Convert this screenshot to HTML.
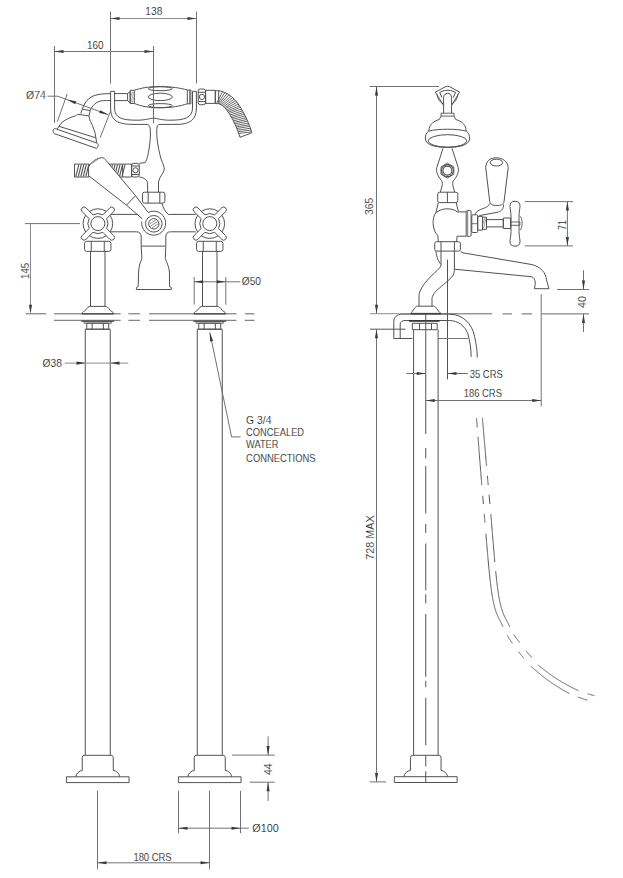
<!DOCTYPE html>
<html><head><meta charset="utf-8"><style>
html,body{margin:0;padding:0;background:#fff;}
svg{display:block;}
text{font-family:"Liberation Sans",sans-serif;stroke:#fff;stroke-width:0.12px;}
</style></head><body>
<svg width="623" height="878" viewBox="0 0 623 878" stroke-linecap="butt" stroke-linejoin="round">
<rect width="623" height="878" fill="#fff"/>
<line x1="110.5" y1="11.5" x2="110.5" y2="83.5" stroke="#727272" stroke-width="1"/>
<line x1="196.5" y1="11.5" x2="196.5" y2="83.5" stroke="#727272" stroke-width="1"/>
<line x1="110.5" y1="18.5" x2="196.5" y2="18.5" stroke="#8a8a8a" stroke-width="1"/>
<path d="M110.5,18.5 L119.5,16.95 L119.5,20.05 Z" fill="#3a3a3a" stroke="none"/>
<path d="M196.5,18.5 L187.5,20.05 L187.5,16.95 Z" fill="#3a3a3a" stroke="none"/>
<text x="145.3" y="14.6" font-size="10.3" textLength="17" lengthAdjust="spacingAndGlyphs" fill="#1e1e1e">138</text>
<line x1="54.5" y1="46" x2="54.5" y2="123" stroke="#727272" stroke-width="1"/>
<line x1="153.5" y1="46" x2="153.5" y2="123.5" stroke="#727272" stroke-width="1"/>
<line x1="54.5" y1="51.5" x2="153.5" y2="51.5" stroke="#727272" stroke-width="1"/>
<path d="M54.5,51.5 L63.5,49.95 L63.5,53.05 Z" fill="#3a3a3a" stroke="none"/>
<path d="M153.5,51.5 L144.5,53.05 L144.5,49.95 Z" fill="#3a3a3a" stroke="none"/>
<text x="86.9" y="48.6" font-size="10.3" textLength="16.6" lengthAdjust="spacingAndGlyphs" fill="#1e1e1e">160</text>
<text x="26.1" y="99.2" font-size="10.3" textLength="19.8" lengthAdjust="spacingAndGlyphs" fill="#1e1e1e">Ø74</text>
<path d="M47.5,96.2 L57.7,96.2 L108.3,114.7" stroke="#727272" stroke-width="1" fill="none"/>
<path d="M67.2,99.7 L76.18,101.35 L75.11,104.26 Z" fill="#3a3a3a" stroke="none"/>
<path d="M108.3,114.7 L99.32,113.06 L100.38,110.15 Z" fill="#3a3a3a" stroke="none"/>
<line x1="67.2" y1="94" x2="57.3" y2="121.6" stroke="#727272" stroke-width="1"/>
<line x1="110.8" y1="110.6" x2="100.1" y2="137.8" stroke="#727272" stroke-width="1"/>
<path d="M55.2,128.6 L97.2,143.2 C98.6,143.7 98.6,147.8 96.2,148.3 L54.3,133.6 C52.6,133 52.8,128.3 55.2,128.6 Z" stroke="#525252" stroke-width="1" fill="none"/>
<path d="M57.2,129.2 L58.9,126.3 L95.9,137.8 L96.6,142.8" stroke="#525252" stroke-width="1" fill="none"/>
<path d="M58.9,126.3 C61,122.5 66,119 72,117 C75,116 76.5,115.5 77.6,114.3 L89.1,115.9 C89.1,117.5 89.5,119.5 90.5,121.5 C93,126 95.5,133 95.9,137.8" stroke="#525252" stroke-width="1" fill="none"/>
<path d="M80.8,113.6 L82.3,109.1 L90.2,110.6 L89.1,115.6" stroke="#525252" stroke-width="1" fill="none"/>
<path d="M82.3,109.1 C84,104 87,99 92,96.5 C97,94.2 103,93.6 110.6,93.6" stroke="#525252" stroke-width="1" fill="none"/>
<path d="M90.2,110.6 C92,106 96,101.5 102.2,100.7 C105,100.4 108,100.6 110.6,100.6" stroke="#525252" stroke-width="1" fill="none"/>
<path d="M110.6,91.3 L114.6,91.3 L114.6,108 C114.6,118 122,120.2 137,120.2 C146,120.2 150,118.2 153.5,118.2 C157,118.2 161,120.2 170,120.2 C184,120.2 192.5,118 192.5,108 L192.5,91.3 L196.4,91.3 L196.4,108 C196.4,120 190,124.4 176,124.4 L160,124.4 C158,124.4 157,125 156.8,130" stroke="#525252" stroke-width="1" fill="none"/>
<path d="M110.6,91.3 L110.6,108 C110.6,121 118,124.4 134,124.4 L146,124.4 C149,124.4 150,125.5 150.3,130" stroke="#525252" stroke-width="1" fill="none"/>
<line x1="114.6" y1="93.6" x2="127.6" y2="93.6" stroke="#525252" stroke-width="1"/>
<line x1="114.6" y1="100.6" x2="127.6" y2="100.6" stroke="#525252" stroke-width="1"/>
<path d="M127.6,93.6 L127.6,100.6 L130.2,102.9 L130.2,91.6 L127.6,93.6 M130.2,90.3 L134.3,90.3 L134.3,103.5 L130.2,103.5 Z" stroke="#525252" stroke-width="1" fill="none"/>
<path d="M131.3,102 L133.5,92 M130.8,97 L132.5,91.5 M132,103 L134,97" stroke="#888" stroke-width="0.6" fill="none"/>
<path d="M134.3,90.3 C141,88 148,86.6 160,86.6 C172,86.6 180,88 187.3,90 M134.3,103.5 C141,106 148,107.8 160,107.8 C172,107.8 180,106 187.3,103.8" stroke="#525252" stroke-width="1" fill="none"/>
<rect x="187.3" y="90" width="3.6" height="13.8" rx="0" stroke="#525252" stroke-width="1" fill="none"/>
<line x1="189.6" y1="90" x2="189.6" y2="103.8" stroke="#525252" stroke-width="0.8"/>
<ellipse cx="160.3" cy="88.7" rx="12" ry="2" stroke="#525252" stroke-width="1" fill="none"/>
<ellipse cx="160.3" cy="96.9" rx="12" ry="3.7" stroke="#525252" stroke-width="1" fill="none"/>
<ellipse cx="160.3" cy="105.6" rx="12" ry="2" stroke="#525252" stroke-width="1" fill="none"/>
<rect x="198.2" y="89" width="7.4" height="15.7" rx="2.2" stroke="#525252" stroke-width="1" fill="none"/>
<line x1="198.2" y1="92.3" x2="205.6" y2="92.3" stroke="#525252" stroke-width="1"/>
<line x1="198.2" y1="101.6" x2="205.6" y2="101.6" stroke="#525252" stroke-width="1"/>
<circle cx="201.9" cy="96.9" r="2.6" stroke="#525252" stroke-width="1" fill="none"/>
<rect x="205.6" y="90.3" width="9.7" height="13.1" rx="0" stroke="#525252" stroke-width="1" fill="none"/>
<rect x="215.3" y="90.7" width="3.4" height="12.9" rx="0" stroke="#525252" stroke-width="1" fill="none"/>
<path d="M218.7,90.7 C227,92 236,98 242.8,111.5 C247,119 250,126 251.8,132.8 L240,137.3 C237,128 234,121 229.3,113.7 C226,108.5 223,105 218.7,103.6" stroke="#525252" stroke-width="1" fill="none"/>
<path d="M222.65,91.6 L216.6,103.18 M224.92,92.51 L217.8,103.45 M227.01,93.57 L218.93,103.83 M228.98,94.79 L220.07,104.34 M230.84,96.15 L221.21,104.97 M232.57,97.62 L222.34,105.74 M234.19,99.19 L223.46,106.63 M235.62,100.73 L224.5,107.58 M236.95,102.31 L225.51,108.62 M238.25,104.01 L226.55,109.8 M239.47,105.72 L227.54,111.04 M240.51,107.31 L228.42,112.24 M241.55,108.99 L229.31,113.54 M242.57,110.76 L230.21,114.96 M243.52,112.49 L231.05,116.38 M244.38,114.17 L231.83,117.77 M245.24,115.92 L232.61,119.26 M246.09,117.74 L233.4,120.83 M246.87,119.48 L234.13,122.35 M247.57,121.13 L234.79,123.8 M248.34,123 L235.51,125.47 M249.03,124.76 L236.18,127.06 M249.66,126.4 L236.77,128.54 M250.34,128.28 L237.43,130.26 M250.96,130.02 L238.03,131.86 M251.57,131.82 L238.62,133.51" stroke="#5a5a5a" stroke-width="0.9" fill="none"/>
<path d="M150.3,130 C150.8,136 150,145 148.2,153.6 C147.3,158 146.5,161 145,162.6 L139.3,163.3" stroke="#525252" stroke-width="1" fill="none"/>
<path d="M156.8,130 C156.5,136 157.5,146 161,158.8 C163,164 164.5,167 164.3,169 C164,173 159,177 158.5,182 L158.5,192.2" stroke="#525252" stroke-width="1" fill="none"/>
<path d="M139.3,177 C144,177.5 147.6,180 147.6,184 L147.6,192.2" stroke="#525252" stroke-width="1" fill="none"/>
<rect x="74.5" y="164.1" width="14.8" height="12.9" rx="0" stroke="#525252" stroke-width="1" fill="none"/>
<path d="M75.8,176.5 L78.8,164.6 M78.3,176.5 L81.3,164.6 M80.8,176.5 L83.8,164.6 M83.3,176.5 L86.3,164.6 M85.8,176.5 L88.8,164.6 M88.3,176.5 L91.3,164.6 M107,176.5 L110,164.6 M109.5,176.5 L112.5,164.6 M112,176.5 L115,164.6 M114.5,176.5 L117.5,164.6 M117,176.5 L120,164.6 M119.5,176.5 L122.5,164.6 M122,176.5 L125,164.6" stroke="#555" stroke-width="1.1" fill="none"/>
<line x1="104" y1="164.1" x2="122.6" y2="164.1" stroke="#525252" stroke-width="1"/>
<line x1="112" y1="177" x2="122.6" y2="177" stroke="#525252" stroke-width="1"/>
<rect x="122.6" y="164.1" width="9" height="12.9" rx="0" stroke="#525252" stroke-width="1" fill="none"/>
<rect x="131.6" y="163.3" width="7.7" height="13.7" rx="2.2" stroke="#525252" stroke-width="1" fill="none"/>
<circle cx="135.5" cy="170.3" r="2.6" stroke="#525252" stroke-width="1" fill="none"/>
<line x1="131.6" y1="166" x2="139.3" y2="166" stroke="#525252" stroke-width="1"/>
<line x1="131.6" y1="174.5" x2="139.3" y2="174.5" stroke="#525252" stroke-width="1"/>
<rect x="142.5" y="192.2" width="22.4" height="10.9" rx="2" stroke="#525252" stroke-width="1" fill="none"/>
<line x1="148.2" y1="192.2" x2="148.2" y2="203.1" stroke="#525252" stroke-width="1"/>
<line x1="159.8" y1="192.2" x2="159.8" y2="203.1" stroke="#525252" stroke-width="1"/>
<path d="M161.8,203.1 C163,207 165,212 168.3,214.4" stroke="#525252" stroke-width="1" fill="none"/>
<path d="M88.6,175.7 L88.6,167 C91,162 97,157.7 102.1,157.7 C104,157.7 105,159 105.9,160.3 L135.5,195.6 L126.5,205.2 Z" stroke="#525252" stroke-width="1" fill="#fff"/>
<line x1="90.5" y1="164.5" x2="98.5" y2="158.8" stroke="#777" stroke-width="0.8"/>
<path d="M126.5,205.2 L142.3,218.8 M135.5,195.6 L148.2,212.5" stroke="#525252" stroke-width="1" fill="none"/>
<path d="M148.2,212.5 A12,12 0 1 1 141.8,221.5" stroke="#525252" stroke-width="1" fill="none"/>
<circle cx="153.8" cy="223.8" r="8.3" stroke="#525252" stroke-width="1" fill="none"/>
<circle cx="153.8" cy="223.8" r="5.2" stroke="#525252" stroke-width="1" fill="none"/>
<path d="M150,226.5 L157.5,221.5 M149.5,224 L156,219.8 M151.8,228 L158.4,223.6" stroke="#777" stroke-width="0.8" fill="none"/>
<line x1="111" y1="214.4" x2="137.5" y2="214.4" stroke="#525252" stroke-width="1"/>
<line x1="168.3" y1="214.4" x2="195.7" y2="214.4" stroke="#525252" stroke-width="1"/>
<path d="M110.6,231.8 L136.5,231.8 C139.5,231.8 141.2,233.5 141.2,237 L141.2,246" stroke="#525252" stroke-width="1" fill="none"/>
<path d="M195.7,231.8 L170.5,231.8 C167.5,231.8 165.8,233.5 165.8,237 L165.8,246" stroke="#525252" stroke-width="1" fill="none"/>
<line x1="141.2" y1="246.1" x2="165.6" y2="246.1" stroke="#525252" stroke-width="1"/>
<path d="M141.2,246.1 L141.9,258.3 C140,263 138.8,267 138.6,272 L138.2,286.4 L136.4,287.5 L136.4,289.5 L171.3,289.5 L171.3,287.5 L169.6,286.6 L169.4,272 C169.2,267 166.8,263 165.3,258.3 L165.8,246.1" stroke="#525252" stroke-width="1" fill="none"/>
<circle cx="97.9" cy="223.6" r="7" stroke="#525252" stroke-width="1" fill="none"/>
<path d="M106.28,235.8 A14.8,14.8 0 0 1 89.52,235.8 M102.8,232.32 A10.0,10.0 0 0 1 93,232.32 M85.7,231.98 A14.8,14.8 0 0 1 85.7,215.22 M89.18,228.5 A10.0,10.0 0 0 1 89.18,218.7 M89.52,211.4 A14.8,14.8 0 0 1 106.28,211.4 M93,214.88 A10.0,10.0 0 0 1 102.8,214.88 M110.1,215.22 A14.8,14.8 0 0 1 110.1,231.98 M106.62,218.7 A10.0,10.0 0 0 1 106.62,228.5" stroke="#525252" stroke-width="1" fill="none"/>
<path d="M102.8,232.32 L109.85,239.37 A2.7,2.7 0 0 0 113.67,235.55 L106.62,228.5 M89.18,228.5 L82.13,235.55 A2.7,2.7 0 0 0 85.95,239.37 L93,232.32 M93,214.88 L85.95,207.83 A2.7,2.7 0 0 0 82.13,211.65 L89.18,218.7 M106.62,218.7 L113.67,211.65 A2.7,2.7 0 0 0 109.85,207.83 L102.8,214.88" stroke="#525252" stroke-width="1" fill="none"/>
<circle cx="209.8" cy="223.6" r="7" stroke="#525252" stroke-width="1" fill="none"/>
<path d="M218.18,235.8 A14.8,14.8 0 0 1 201.42,235.8 M214.7,232.32 A10.0,10.0 0 0 1 204.9,232.32 M197.6,231.98 A14.8,14.8 0 0 1 197.6,215.22 M201.08,228.5 A10.0,10.0 0 0 1 201.08,218.7 M201.42,211.4 A14.8,14.8 0 0 1 218.18,211.4 M204.9,214.88 A10.0,10.0 0 0 1 214.7,214.88 M222,215.22 A14.8,14.8 0 0 1 222,231.98 M218.52,218.7 A10.0,10.0 0 0 1 218.52,228.5" stroke="#525252" stroke-width="1" fill="none"/>
<path d="M214.7,232.32 L221.75,239.37 A2.7,2.7 0 0 0 225.57,235.55 L218.52,228.5 M201.08,228.5 L194.03,235.55 A2.7,2.7 0 0 0 197.85,239.37 L204.9,232.32 M204.9,214.88 L197.85,207.83 A2.7,2.7 0 0 0 194.03,211.65 L201.08,218.7 M218.52,218.7 L225.57,211.65 A2.7,2.7 0 0 0 221.75,207.83 L214.7,214.88" stroke="#525252" stroke-width="1" fill="none"/>
<line x1="25" y1="223.6" x2="80" y2="223.6" stroke="#727272" stroke-width="1"/>
<rect x="84.55" y="241.3" width="26.4" height="10.1" rx="2.2" stroke="#525252" stroke-width="1" fill="none"/>
<line x1="91.25" y1="241.3" x2="91.25" y2="251.4" stroke="#525252" stroke-width="1"/>
<line x1="104.25" y1="241.3" x2="104.25" y2="251.4" stroke="#525252" stroke-width="1"/>
<line x1="90.5" y1="251.4" x2="90.5" y2="306.5" stroke="#525252" stroke-width="1"/>
<line x1="105" y1="251.4" x2="105" y2="306.5" stroke="#525252" stroke-width="1"/>
<path d="M90.5,306.4 L105,306.4 C107.25,306.4 108.25,307.5 109.75,310 C110.75,311.5 113.25,311.3 113.55,313.8 M90.5,306.4 C88.25,306.4 87.25,307.5 85.75,310 C84.75,311.5 82.25,311.3 81.95,313.8" stroke="#525252" stroke-width="1" fill="none"/>
<line x1="81.75" y1="313.8" x2="113.75" y2="313.8" stroke="#333" stroke-width="1.6"/>
<line x1="81.35" y1="320.9" x2="114.15" y2="320.9" stroke="#333" stroke-width="1.5"/>
<rect x="84.25" y="321.6" width="27" height="1.6" rx="0" stroke="#525252" stroke-width="0.9" fill="none"/>
<rect x="86.75" y="323.2" width="22" height="6" rx="0" stroke="#525252" stroke-width="1" fill="none"/>
<line x1="92.15" y1="323.2" x2="92.15" y2="329.2" stroke="#525252" stroke-width="1"/>
<line x1="103.35" y1="323.2" x2="103.35" y2="329.2" stroke="#525252" stroke-width="1"/>
<line x1="85.25" y1="329.2" x2="110.25" y2="329.2" stroke="#525252" stroke-width="1"/>
<line x1="85.25" y1="329.2" x2="85.25" y2="755.3" stroke="#525252" stroke-width="1"/>
<line x1="110.25" y1="329.2" x2="110.25" y2="755.3" stroke="#525252" stroke-width="1"/>
<path d="M82.25,770.4 L82.25,757.5 Q82.25,755.3 84.75,755.3 L110.75,755.3 Q113.25,755.3 113.25,757.5 L113.25,770.4" stroke="#525252" stroke-width="1" fill="none"/>
<path d="M82.25,770.4 C79.25,771 76.25,773 75.85,776.8 M113.25,770.4 C116.25,771 119.25,773 119.65,776.8" stroke="#525252" stroke-width="1" fill="none"/>
<rect x="66.45" y="776.8" width="62.6" height="5.8" rx="0" stroke="#525252" stroke-width="1" fill="none"/>
<rect x="196.55" y="241.3" width="26.4" height="10.1" rx="2.2" stroke="#525252" stroke-width="1" fill="none"/>
<line x1="203.25" y1="241.3" x2="203.25" y2="251.4" stroke="#525252" stroke-width="1"/>
<line x1="216.25" y1="241.3" x2="216.25" y2="251.4" stroke="#525252" stroke-width="1"/>
<line x1="202.5" y1="251.4" x2="202.5" y2="306.5" stroke="#525252" stroke-width="1"/>
<line x1="217" y1="251.4" x2="217" y2="306.5" stroke="#525252" stroke-width="1"/>
<path d="M202.5,306.4 L217,306.4 C219.25,306.4 220.25,307.5 221.75,310 C222.75,311.5 225.25,311.3 225.55,313.8 M202.5,306.4 C200.25,306.4 199.25,307.5 197.75,310 C196.75,311.5 194.25,311.3 193.95,313.8" stroke="#525252" stroke-width="1" fill="none"/>
<line x1="193.75" y1="313.8" x2="225.75" y2="313.8" stroke="#333" stroke-width="1.6"/>
<line x1="193.35" y1="320.9" x2="226.15" y2="320.9" stroke="#333" stroke-width="1.5"/>
<rect x="196.25" y="321.6" width="27" height="1.6" rx="0" stroke="#525252" stroke-width="0.9" fill="none"/>
<rect x="198.75" y="323.2" width="22" height="6" rx="0" stroke="#525252" stroke-width="1" fill="none"/>
<line x1="204.15" y1="323.2" x2="204.15" y2="329.2" stroke="#525252" stroke-width="1"/>
<line x1="215.35" y1="323.2" x2="215.35" y2="329.2" stroke="#525252" stroke-width="1"/>
<line x1="197.25" y1="329.2" x2="222.25" y2="329.2" stroke="#525252" stroke-width="1"/>
<line x1="197.25" y1="329.2" x2="197.25" y2="755.3" stroke="#525252" stroke-width="1"/>
<line x1="222.25" y1="329.2" x2="222.25" y2="755.3" stroke="#525252" stroke-width="1"/>
<path d="M194.25,770.4 L194.25,757.5 Q194.25,755.3 196.75,755.3 L222.75,755.3 Q225.25,755.3 225.25,757.5 L225.25,770.4" stroke="#525252" stroke-width="1" fill="none"/>
<path d="M194.25,770.4 C191.25,771 188.25,773 187.85,776.8 M225.25,770.4 C228.25,771 231.25,773 231.65,776.8" stroke="#525252" stroke-width="1" fill="none"/>
<rect x="178.45" y="776.8" width="62.6" height="5.8" rx="0" stroke="#525252" stroke-width="1" fill="none"/>
<line x1="30.5" y1="223.6" x2="30.5" y2="311.5" stroke="#8a8a8a" stroke-width="1"/>
<path d="M30.5,313.8 L28.95,304.8 L32.05,304.8 Z" fill="#3a3a3a" stroke="none"/>
<text x="0" y="0" font-size="10.3" textLength="16.1" lengthAdjust="spacingAndGlyphs" fill="#1e1e1e" transform="translate(28.8,278.9) rotate(-90)">145</text>
<line x1="25.7" y1="313.8" x2="46.2" y2="313.8" stroke="#666" stroke-width="1"/>
<line x1="53.9" y1="313.8" x2="120.7" y2="313.8" stroke="#666" stroke-width="1"/>
<line x1="128.4" y1="313.8" x2="140" y2="313.8" stroke="#666" stroke-width="1"/>
<line x1="149" y1="313.8" x2="236.5" y2="313.8" stroke="#666" stroke-width="1"/>
<line x1="244.8" y1="313.8" x2="254.5" y2="313.8" stroke="#666" stroke-width="1"/>
<line x1="53.9" y1="320.3" x2="120.7" y2="320.3" stroke="#666" stroke-width="1"/>
<line x1="128.4" y1="320.3" x2="140" y2="320.3" stroke="#666" stroke-width="1"/>
<line x1="149" y1="320.3" x2="236.5" y2="320.3" stroke="#666" stroke-width="1"/>
<line x1="244.8" y1="320.3" x2="254.5" y2="320.3" stroke="#666" stroke-width="1"/>
<line x1="194.2" y1="277" x2="194.2" y2="304.6" stroke="#727272" stroke-width="1"/>
<line x1="225.8" y1="277" x2="225.8" y2="304.6" stroke="#727272" stroke-width="1"/>
<line x1="194.2" y1="281.8" x2="240.4" y2="281.8" stroke="#727272" stroke-width="1"/>
<path d="M194.2,281.8 L203.2,280.25 L203.2,283.35 Z" fill="#3a3a3a" stroke="none"/>
<path d="M225.8,281.8 L216.8,283.35 L216.8,280.25 Z" fill="#3a3a3a" stroke="none"/>
<text x="241.7" y="285.4" font-size="10.3" textLength="19.3" lengthAdjust="spacingAndGlyphs" fill="#1e1e1e">Ø50</text>
<line x1="64.7" y1="363.1" x2="128.3" y2="363.1" stroke="#8a8a8a" stroke-width="1"/>
<path d="M85.5,363.1 L76.5,364.65 L76.5,361.55 Z" fill="#3a3a3a" stroke="none"/>
<path d="M110.5,363.1 L119.5,361.55 L119.5,364.65 Z" fill="#3a3a3a" stroke="none"/>
<text x="42.5" y="367.4" font-size="10.3" textLength="19.5" lengthAdjust="spacingAndGlyphs" fill="#1e1e1e">Ø38</text>
<path d="M240.6,436.9 L231.6,436.9 L209.8,332.4" stroke="#727272" stroke-width="1" fill="none"/>
<path d="M209.8,332.4 L213.07,340.93 L210.02,341.53 Z" fill="#3a3a3a" stroke="none"/>
<text x="246.1" y="423.7" font-size="10.4" textLength="25.3" lengthAdjust="spacingAndGlyphs" fill="#1e1e1e">G 3/4</text>
<text x="246.1" y="435.5" font-size="10.4" textLength="58" lengthAdjust="spacingAndGlyphs" fill="#1e1e1e">CONCEALED</text>
<text x="246.1" y="448.3" font-size="10.4" textLength="32.3" lengthAdjust="spacingAndGlyphs" fill="#1e1e1e">WATER</text>
<text x="246.1" y="461.8" font-size="10.4" textLength="69.5" lengthAdjust="spacingAndGlyphs" fill="#1e1e1e">CONNECTIONS</text>
<line x1="232" y1="755.1" x2="274.8" y2="755.1" stroke="#727272" stroke-width="1"/>
<line x1="249.8" y1="782.2" x2="274.8" y2="782.2" stroke="#727272" stroke-width="1"/>
<line x1="268.1" y1="736.3" x2="268.1" y2="755.1" stroke="#727272" stroke-width="1"/>
<path d="M268.1,755.1 L266.55,746.1 L269.65,746.1 Z" fill="#3a3a3a" stroke="none"/>
<line x1="268.1" y1="782.2" x2="268.1" y2="801" stroke="#727272" stroke-width="1"/>
<path d="M268.1,782.2 L269.65,791.2 L266.55,791.2 Z" fill="#3a3a3a" stroke="none"/>
<text x="0" y="0" font-size="10.3" textLength="11.9" lengthAdjust="spacingAndGlyphs" fill="#1e1e1e" transform="translate(271.6,775.1) rotate(-90)">44</text>
<line x1="97.5" y1="790.8" x2="97.5" y2="869.4" stroke="#727272" stroke-width="1"/>
<line x1="209.5" y1="790.8" x2="209.5" y2="869.4" stroke="#727272" stroke-width="1"/>
<line x1="178.5" y1="790.8" x2="178.5" y2="833.2" stroke="#727272" stroke-width="1"/>
<line x1="240.5" y1="790.8" x2="240.5" y2="833.2" stroke="#727272" stroke-width="1"/>
<line x1="178.5" y1="828.2" x2="248.8" y2="828.2" stroke="#727272" stroke-width="1"/>
<path d="M178.5,828.2 L187.5,826.65 L187.5,829.75 Z" fill="#3a3a3a" stroke="none"/>
<path d="M240.5,828.2 L231.5,829.75 L231.5,826.65 Z" fill="#3a3a3a" stroke="none"/>
<text x="252.3" y="831.5" font-size="10.3" textLength="26.4" lengthAdjust="spacingAndGlyphs" fill="#1e1e1e">Ø100</text>
<line x1="97.5" y1="862.8" x2="209.5" y2="862.8" stroke="#727272" stroke-width="1"/>
<path d="M97.5,862.8 L106.5,861.25 L106.5,864.35 Z" fill="#3a3a3a" stroke="none"/>
<path d="M209.5,862.8 L200.5,864.35 L200.5,861.25 Z" fill="#3a3a3a" stroke="none"/>
<text x="133.4" y="861.2" font-size="10.3" textLength="38.2" lengthAdjust="spacingAndGlyphs" fill="#1e1e1e">180 CRS</text>
<line x1="369.6" y1="86.5" x2="439" y2="86.5" stroke="#727272" stroke-width="1"/>
<line x1="376.5" y1="86.5" x2="376.5" y2="313.7" stroke="#727272" stroke-width="1"/>
<path d="M376.5,86.5 L378.05,95.5 L374.95,95.5 Z" fill="#3a3a3a" stroke="none"/>
<path d="M376.5,313.7 L374.95,304.7 L378.05,304.7 Z" fill="#3a3a3a" stroke="none"/>
<line x1="370" y1="313.7" x2="397.8" y2="313.7" stroke="#8a8a8a" stroke-width="1"/>
<text x="0" y="0" font-size="10.3" textLength="17.1" lengthAdjust="spacingAndGlyphs" fill="#1e1e1e" transform="translate(372.7,214.9) rotate(-90)">365</text>
<line x1="370" y1="329.2" x2="405.5" y2="329.2" stroke="#555" stroke-width="1"/>
<line x1="376.5" y1="329.2" x2="376.5" y2="781.9" stroke="#727272" stroke-width="1"/>
<path d="M376.5,329.2 L378.05,338.2 L374.95,338.2 Z" fill="#3a3a3a" stroke="none"/>
<path d="M376.5,781.9 L374.95,772.9 L378.05,772.9 Z" fill="#3a3a3a" stroke="none"/>
<line x1="369.6" y1="781.9" x2="386" y2="781.9" stroke="#727272" stroke-width="1"/>
<text x="0" y="0" font-size="10.4" textLength="44.3" lengthAdjust="spacingAndGlyphs" fill="#1e1e1e" transform="translate(373.6,559.7) rotate(-90)">728 MAX</text>
<path d="M435.3,92.1 L445.5,86.7 Q447.6,85.7 449.7,86.7 L459.5,92.1 M435.3,92.1 L443.5,105.2 M459.5,92.1 L451.7,105.2" stroke="#525252" stroke-width="1" fill="none"/>
<path d="M436.9,94.2 C437.6,99 440,102.5 443.5,104.3 M458,94.2 C457.3,99 454.9,102.5 451.7,104.3" stroke="#525252" stroke-width="0.9" fill="none"/>
<path d="M441.9,97.6 L439.7,92.3 L444.7,90.4 L450.6,90.4 L455.6,92.3 L453.3,97.6" stroke="#525252" stroke-width="1" fill="none"/>
<path d="M443.6,113.2 L443.6,97.6 C443.6,95 445.5,93.3 447.6,93.3 C449.7,93.3 451.6,95 451.6,97.6 L451.6,113.2" stroke="#525252" stroke-width="1" fill="none"/>
<rect x="441" y="113.2" width="13" height="2.9" rx="0" stroke="#525252" stroke-width="0.9" fill="none"/>
<path d="M441,116.1 L439.3,119.5 C434,121 430,124 429.2,128.5 L428.7,131.1 M454,116.1 L455.7,119.5 C461,121 465,124 465.8,128.5 L466.3,131.1" stroke="#525252" stroke-width="1" fill="none"/>
<path d="M428.7,131.1 C438,128.6 457,128.6 466.3,131.1 C469,133 469.8,136 469.6,139 C469,145 460,147.4 447.5,147.4 C435,147.4 426,145 425.4,139 C425.2,136 426,133 428.7,131.1 Z" stroke="#525252" stroke-width="1" fill="none"/>
<ellipse cx="447.5" cy="140.9" rx="19.3" ry="6.2" stroke="#525252" stroke-width="1" fill="none"/>
<path d="M443,148.4 L436.8,167.5 C435.8,171 437.5,176 441.5,180.5 C442.8,182 442.3,185 441.8,187 L440.3,192.2" stroke="#525252" stroke-width="1" fill="none"/>
<path d="M452,148.4 L458.2,167.5 C459.2,171 457.5,176 453.5,180.5 C452.2,182 452.7,185 453.2,187 L454.7,192.2" stroke="#525252" stroke-width="1" fill="none"/>
<path d="M447.4,178 L440.99,174.3 L440.99,166.9 L447.4,163.2 L453.81,166.9 L453.81,174.3 Z" stroke="#525252" stroke-width="0.9" fill="none"/>
<circle cx="447.4" cy="170.6" r="6" stroke="#525252" stroke-width="1.1" fill="none"/>
<circle cx="447.4" cy="170.6" r="4.5" stroke="#525252" stroke-width="1.2" fill="none"/>
<rect x="437.7" y="192.2" width="20.1" height="10.4" rx="2" stroke="#525252" stroke-width="1" fill="none"/>
<line x1="447.4" y1="192.2" x2="447.4" y2="202.6" stroke="#525252" stroke-width="1"/>
<path d="M438.3,202.6 L435.9,212.8 C432,217 431.8,230 437.8,235.5 L438.3,241.7" stroke="#525252" stroke-width="1" fill="none"/>
<path d="M456.1,202.6 L458.5,211.9" stroke="#525252" stroke-width="1" fill="none"/>
<path d="M435.9,212.8 C440,209.5 444,208.8 447,208.8 C452,208.8 455,210 457.1,211.9 L466.2,211.9" stroke="#525252" stroke-width="1" fill="none"/>
<path d="M466.2,236.2 L457.1,236.2 L456.6,241.7" stroke="#525252" stroke-width="1" fill="none"/>
<rect x="466.2" y="210.4" width="4.9" height="26" rx="1.3" stroke="#525252" stroke-width="1" fill="none"/>
<line x1="467.7" y1="211" x2="467.7" y2="235.8" stroke="#525252" stroke-width="0.8"/>
<rect x="471.8" y="214.8" width="5.9" height="17.7" rx="1" stroke="#525252" stroke-width="1" fill="none"/>
<line x1="471.8" y1="223.7" x2="477.7" y2="223.7" stroke="#525252" stroke-width="0.8"/>
<rect x="477.7" y="216.4" width="4.8" height="13.7" rx="0" stroke="#525252" stroke-width="1" fill="none"/>
<rect x="482.5" y="217.2" width="4" height="12.1" rx="0" stroke="#525252" stroke-width="1" fill="none"/>
<path d="M483.5,228 L486,218.5 M482.8,224 L484.8,218" stroke="#777" stroke-width="0.7" fill="none"/>
<rect x="486.5" y="219.6" width="16.8" height="7.3" rx="0" stroke="#525252" stroke-width="1" fill="none"/>
<rect x="503.3" y="218" width="7.3" height="10.5" rx="0" stroke="#525252" stroke-width="1" fill="none"/>
<path d="M515,201.3 C518.5,201.3 520.2,203 520,206.5 C519.8,209.5 519,212 519,216 L519,231.5 C519,235.5 519.8,238 520,241 C520.2,244.5 518.5,246.2 515,246.2 C511.5,246.2 509.8,244.5 510,241 C510.2,238 511,235.5 511,231.5 L511,216 C511,212 510.2,209.5 510,206.5 C509.8,203 511.5,201.3 515,201.3 Z" stroke="#525252" stroke-width="1" fill="none"/>
<rect x="510.5" y="222" width="9.4" height="3.3" rx="0" stroke="#525252" stroke-width="0.9" fill="none"/>
<path d="M519.9,216.4 C522.8,217 522.8,229.4 519.9,230" stroke="#525252" stroke-width="0.9" fill="none"/>
<path d="M485.7,167.5 C486,161 490,157.8 496.1,157.8 C502.2,157.8 507.5,161 508.2,167.5 L504.1,201.2 C503.6,205 500,205.5 496.9,205.5 C493,205.5 490,204.5 489.7,201.2 Z" stroke="#525252" stroke-width="1" fill="none"/>
<ellipse cx="496.4" cy="162.6" rx="6.2" ry="3.4" stroke="#525252" stroke-width="1" fill="none"/>
<path d="M489.4,203.5 C489,206.5 486,207.5 480.5,209.5 C477,211 475.5,212.5 475.2,214.8" stroke="#525252" stroke-width="1" fill="none"/>
<path d="M503.5,204.5 C503.8,209 501,211.5 496.9,212.4 L479.3,215.6" stroke="#525252" stroke-width="1" fill="none"/>
<rect x="434.7" y="241.7" width="25.7" height="9.4" rx="2" stroke="#525252" stroke-width="1" fill="none"/>
<line x1="441" y1="241.7" x2="441" y2="251.2" stroke="#525252" stroke-width="1"/>
<line x1="454.4" y1="241.7" x2="454.4" y2="251.2" stroke="#525252" stroke-width="1"/>
<path d="M435.9,251.2 C436.5,257 438.5,262 441,264.3" stroke="#525252" stroke-width="1" fill="none"/>
<path d="M441,251.2 L441,265.2 C440,268 438,270 435.3,272 C430,277 424,283.5 421.9,287.7 C420,291 419,293 419,295.6 L419,306.2" stroke="#525252" stroke-width="1" fill="none"/>
<path d="M454.4,251.2 L454.4,269.2 C454.4,273 453.5,275 452.2,276.5 C451,278 449.5,279.5 447.7,281 C442,286 436,290.5 434.2,293.3 C432.8,295.5 432,297 432,298.9 L432,306.2" stroke="#525252" stroke-width="1" fill="none"/>
<path d="M460.6,251.7 L463.4,252.9 L532.1,264.6 C541,267 546,273 546.5,279.9 L549,288.7 L534.5,288.7 L535.3,283.1 C535,279 533.5,277.2 531.3,276.7 L454.4,269.2" stroke="#525252" stroke-width="1" fill="none"/>
<path d="M417.4,306.2 L433.6,306.2 C436.6,306.4 437,310.5 441,313.6 M417.4,306.2 C414.4,306.4 414,310.5 410.4,313.6" stroke="#525252" stroke-width="1" fill="none"/>
<line x1="410.6" y1="313.7" x2="441" y2="313.7" stroke="#333" stroke-width="1.6"/>
<line x1="447.5" y1="259.6" x2="447.5" y2="379.4" stroke="#525252" stroke-width="1"/>
<line x1="441" y1="313.8" x2="492" y2="313.8" stroke="#666" stroke-width="1"/>
<line x1="502.4" y1="313.9" x2="512" y2="313.9" stroke="#666" stroke-width="1"/>
<line x1="521.7" y1="313.9" x2="532.1" y2="313.9" stroke="#666" stroke-width="1"/>
<line x1="541.7" y1="313.9" x2="589" y2="313.9" stroke="#666" stroke-width="1"/>
<line x1="397.8" y1="313.8" x2="410.6" y2="313.8" stroke="#999" stroke-width="1"/>
<path d="M393.8,338.5 L393.8,321.7 C393.8,317 397.5,314.1 402.7,314.1 L449.2,314.1 C462,314.1 472,323 474.6,336.4 C476.5,345 477.3,352 477.3,357.6" stroke="#525252" stroke-width="1" fill="none"/>
<path d="M400.2,338.5 L400.2,324 C400.2,321.8 402.5,320.5 405.1,320.5 L449.2,320.5 C458,320.5 465,326 467.8,333.7 C470,341 471,349 471.2,356.9" stroke="#525252" stroke-width="1" fill="none"/>
<line x1="393.8" y1="338.5" x2="412.5" y2="338.5" stroke="#525252" stroke-width="1"/>
<line x1="438.5" y1="338.5" x2="468.5" y2="338.5" stroke="#777" stroke-width="1"/>
<line x1="409" y1="321" x2="439.6" y2="321" stroke="#333" stroke-width="1.6"/>
<rect x="412.3" y="323.3" width="24.9" height="6.4" rx="0" stroke="#525252" stroke-width="1" fill="none"/>
<line x1="419.5" y1="323.3" x2="419.5" y2="329.7" stroke="#525252" stroke-width="1"/>
<line x1="431.5" y1="323.3" x2="431.5" y2="329.7" stroke="#525252" stroke-width="1"/>
<line x1="413.6" y1="329.7" x2="413.6" y2="755.3" stroke="#525252" stroke-width="1"/>
<line x1="438.1" y1="329.7" x2="438.1" y2="755.3" stroke="#525252" stroke-width="1"/>
<path d="M425.75,313.7 L425.75,434 M425.75,448 L425.75,458.5 M425.75,466 L425.75,513.5 M425.75,524 L425.75,533 M425.75,543.5 L425.75,590.4 M425.75,594.3 L425.75,603.5 M425.75,614 L425.75,676.8 M425.75,680.8 L425.75,687.3 M425.75,697.8 L425.75,745.3 M425.75,755.9 L425.75,766.5 M425.75,771.3 L425.75,782.5" stroke="#555" stroke-width="1" fill="none"/>
<path d="M410.45,770.3 L410.45,757.5 Q410.45,755.3 412.95,755.3 L438.55,755.3 Q441.05,755.3 441.05,757.5 L441.05,770.3" stroke="#525252" stroke-width="1" fill="none"/>
<path d="M410.45,770.3 C407.45,771 404.45,773 403.85,776.7 M441.05,770.3 C444.05,771 447.05,773 447.65,776.7" stroke="#525252" stroke-width="1" fill="none"/>
<rect x="394.35" y="776.7" width="62.8" height="5.8" rx="0" stroke="#525252" stroke-width="1" fill="none"/>
<line x1="524.9" y1="201.6" x2="573" y2="201.6" stroke="#727272" stroke-width="1"/>
<line x1="524.9" y1="245.9" x2="573" y2="245.9" stroke="#727272" stroke-width="1"/>
<line x1="567.4" y1="201.6" x2="567.4" y2="245.9" stroke="#727272" stroke-width="1"/>
<path d="M567.4,201.6 L568.95,210.6 L565.85,210.6 Z" fill="#3a3a3a" stroke="none"/>
<path d="M567.4,245.9 L565.85,236.9 L568.95,236.9 Z" fill="#3a3a3a" stroke="none"/>
<text x="0" y="0" font-size="10.3" textLength="10.1" lengthAdjust="spacingAndGlyphs" fill="#1e1e1e" transform="translate(565.6,230.1) rotate(-90)">71</text>
<line x1="557" y1="289.5" x2="589" y2="289.5" stroke="#727272" stroke-width="1"/>
<line x1="583.5" y1="270.3" x2="583.5" y2="289.5" stroke="#727272" stroke-width="1"/>
<path d="M583.5,289.5 L581.95,280.5 L585.05,280.5 Z" fill="#3a3a3a" stroke="none"/>
<line x1="583.5" y1="313.9" x2="583.5" y2="332" stroke="#727272" stroke-width="1"/>
<path d="M583.5,313.9 L585.05,322.9 L581.95,322.9 Z" fill="#3a3a3a" stroke="none"/>
<text x="0" y="0" font-size="10.3" textLength="11.9" lengthAdjust="spacingAndGlyphs" fill="#1e1e1e" transform="translate(585.8,308) rotate(-90)">40</text>
<line x1="541.2" y1="294.3" x2="541.2" y2="406.4" stroke="#727272" stroke-width="1"/>
<line x1="406.4" y1="373.5" x2="425.75" y2="373.5" stroke="#727272" stroke-width="1"/>
<path d="M425.75,373.5 L416.75,375.05 L416.75,371.95 Z" fill="#3a3a3a" stroke="none"/>
<line x1="447.5" y1="373.5" x2="468" y2="373.5" stroke="#727272" stroke-width="1"/>
<path d="M447.5,373.5 L456.5,371.95 L456.5,375.05 Z" fill="#3a3a3a" stroke="none"/>
<text x="469.7" y="377.5" font-size="10.4" textLength="33.1" lengthAdjust="spacingAndGlyphs" fill="#1e1e1e">35 CRS</text>
<line x1="425.75" y1="400.5" x2="541.2" y2="400.5" stroke="#727272" stroke-width="1"/>
<path d="M425.75,400.5 L434.75,398.95 L434.75,402.05 Z" fill="#3a3a3a" stroke="none"/>
<path d="M541.2,400.5 L532.2,402.05 L532.2,398.95 Z" fill="#3a3a3a" stroke="none"/>
<text x="463.7" y="397.4" font-size="10.4" textLength="38.3" lengthAdjust="spacingAndGlyphs" fill="#1e1e1e">186 CRS</text>
<path d="M476.5,418 L476.54,418.49 L476.58,419.01 L476.62,419.54 L476.67,420.1 L476.71,420.67 L476.76,421.27 L476.81,421.88 L476.86,422.51 L476.91,423.16 L476.96,423.83 L477.02,424.52 L477.07,425.22 L477.13,425.94 L477.18,426.68 L477.24,427.43 M477.96,436.69 L478.04,437.61 L478.11,438.54 L478.18,439.49 L478.26,440.44 L478.33,441.41 L478.41,442.39 L478.48,443.37 L478.56,444.37 L478.64,445.38 L478.72,446.39 L478.8,447.42 L478.88,448.45 L478.96,449.49 L479.04,450.53 L479.13,451.59 L479.21,452.65 L479.29,453.72 L479.38,454.79 L479.46,455.88 L479.55,456.96 L479.63,458.05 L479.72,459.15 L479.81,460.25 L479.9,461.35 L479.98,462.46 L480.07,463.57 L480.16,464.69 L480.25,465.81 L480.34,466.93 L480.43,468.05 L480.52,469.18 L480.61,470.3 L480.7,471.43 L480.79,472.56 L480.88,473.68 L480.97,474.81 L481.06,475.94 L481.15,477.07 L481.24,478.19 L481.34,479.32 L481.43,480.44 L481.52,481.56 L481.61,482.68 L481.7,483.79 L481.79,484.91 M482.7,495.79 L482.79,496.84 L482.88,497.89 L482.97,498.93 L483.06,499.97 L483.15,500.99 L483.24,502.01 L483.33,503.01 L483.41,504.01 M484.28,514.14 L484.37,515.19 L484.46,516.24 L484.55,517.3 L484.64,518.36 L484.73,519.43 L484.81,520.5 L484.9,521.58 L484.99,522.66 M485.89,533.61 L485.98,534.72 L486.07,535.83 L486.16,536.93 L486.25,538.04 L486.35,539.15 L486.44,540.26 L486.53,541.36 L486.62,542.47 L486.71,543.58 L486.81,544.68 L486.9,545.79 L486.99,546.89 L487.09,547.99 L487.18,549.09 L487.27,550.18 L487.37,551.27 L487.46,552.36 L487.56,553.45 L487.65,554.53 L487.75,555.61 L487.84,556.69 L487.94,557.76 L488.03,558.83 L488.13,559.89 L488.22,560.95 L488.32,562 L488.42,563.05 L488.51,564.09 L488.61,565.12 L488.71,566.15 L488.81,567.17 L488.91,568.19 L489,569.2 L489.1,570.2 L489.2,571.2 L489.3,572.18 L489.4,573.16 L489.5,574.13 L489.6,575.09 L489.7,576.05 L489.8,576.99 L489.9,577.93 L490,578.85 L490.11,579.77 L490.21,580.68 L490.31,581.57 L490.41,582.46 L490.52,583.33 L490.62,584.2 L490.72,585.05 L490.83,585.89 L490.93,586.72 L491.03,587.54 L491.14,588.34 L491.24,589.14 L491.35,589.92 L491.46,590.68 L491.56,591.44 L491.67,592.18 L491.78,592.9 L491.88,593.62 L491.99,594.32 L492.1,595 L492.21,595.67 L492.32,596.33 L492.43,596.97 L492.54,597.61 L492.65,598.23 L492.76,598.84 L492.88,599.44 L492.99,600.03 L493.1,600.61 L493.22,601.17 L493.33,601.73 L493.45,602.27 L493.57,602.81 L493.68,603.33 L493.8,603.84 L493.92,604.35 L494.04,604.84 L494.16,605.33 L494.28,605.8 L494.4,606.27 L494.52,606.73 L494.64,607.18 L494.76,607.62 L494.88,608.05 L495,608.47 L495.13,608.89 L495.25,609.3 L495.37,609.7 L495.49,610.09 L495.62,610.47 L495.74,610.85 L495.87,611.22 L495.99,611.59 L496.12,611.94 L496.24,612.3 L496.37,612.64 L496.49,612.98 L496.62,613.31 L496.74,613.64 L496.87,613.96 L497,614.27 L497.12,614.59 L497.25,614.89 L497.37,615.19 L497.5,615.49 L497.63,615.78 L497.75,616.07 L497.88,616.35 L498.01,616.63 L498.13,616.9 L498.26,617.17 L498.39,617.44 L498.51,617.71 L498.64,617.97 L498.76,618.23 L498.89,618.48 L499.02,618.74 L499.14,618.99 L499.27,619.23 L499.39,619.48 L499.52,619.73 L499.64,619.97 L499.77,620.21 L499.89,620.45 L500.02,620.69 L500.14,620.93 L500.26,621.16 L500.39,621.4 L500.51,621.64 L500.63,621.87 L500.76,622.11 L500.88,622.34 L501,622.58 L501.12,622.82 L501.24,623.05 L501.36,623.29 L501.48,623.53 L501.6,623.77 L501.72,624.01 L501.84,624.25 L501.96,624.5 L502.08,624.74 L502.2,624.99 L502.31,625.24 L502.43,625.49 L502.54,625.75 L502.66,626.01 L502.77,626.27 L502.89,626.53 L503,626.8 M507.17,635.31 L507.26,635.48 L507.36,635.65 L507.46,635.82 L507.56,635.98 L507.66,636.15 L507.76,636.32 L507.86,636.48 L507.96,636.64 L508.06,636.8 L508.16,636.97 L508.26,637.13 L508.36,637.29 L508.46,637.45 L508.56,637.6 L508.66,637.76 L508.76,637.92 L508.86,638.08 L508.96,638.24 L509.07,638.39 L509.17,638.55 L509.27,638.7 L509.37,638.86 L509.47,639.02 L509.58,639.17 L509.68,639.33 L509.78,639.48 L509.89,639.64 L509.99,639.8 L510.09,639.95 L510.2,640.11 L510.3,640.27 L510.41,640.43 L510.52,640.58 L510.62,640.74 L510.73,640.9 L510.84,641.06 L510.94,641.22 L511.05,641.38 L511.16,641.55 L511.27,641.71 L511.38,641.87 L511.49,642.04 L511.6,642.2 L511.72,642.37 L511.83,642.54 L511.94,642.71 L512.05,642.88 L512.17,643.05 L512.28,643.23 L512.4,643.4 M518.44,651.62 L518.57,651.8 L518.71,651.97 L518.85,652.14 L518.98,652.31 L519.12,652.49 L519.25,652.66 L519.39,652.83 L519.52,653 L519.66,653.16 L519.79,653.33 L519.92,653.5 L520.06,653.66 L520.19,653.83 L520.32,653.99 L520.45,654.16 L520.58,654.32 L520.71,654.48 L520.84,654.64 L520.97,654.8 L521.1,654.96 L521.23,655.12 L521.36,655.27 L521.48,655.43 L521.61,655.58 L521.73,655.73 L521.85,655.89 L521.98,656.04 L522.1,656.19 L522.22,656.34 L522.34,656.48 L522.46,656.63 L522.58,656.77 L522.69,656.92 L522.81,657.06 L522.92,657.2 L523.04,657.34 L523.15,657.48 L523.26,657.61 L523.37,657.75 L523.48,657.88 L523.59,658.01 L523.69,658.14 L523.8,658.27 L523.9,658.4 M530.9,666.2 L531.04,666.33 L531.18,666.46 L531.33,666.59 L531.48,666.72 L531.63,666.85 L531.78,666.99 L531.93,667.13 L532.09,667.27 L532.25,667.41 L532.41,667.55 L532.57,667.69 L532.74,667.84 L532.91,667.99 L533.08,668.14 L533.25,668.29 L533.42,668.44 L533.6,668.59 L533.77,668.75 L533.95,668.91 L534.13,669.06 L534.31,669.22 L534.5,669.38 L534.68,669.54 L534.87,669.7 L535.06,669.87 L535.25,670.03 L535.44,670.2 L535.64,670.36 L535.83,670.53 L536.03,670.7 L536.22,670.87 L536.42,671.04 L536.62,671.21 L536.82,671.38 L537.03,671.55 L537.23,671.73 L537.44,671.9 L537.64,672.07 L537.85,672.25 L538.06,672.42 L538.27,672.6 L538.48,672.78 L538.69,672.95 L538.9,673.13 L539.11,673.31 L539.33,673.48 L539.54,673.66 L539.76,673.84 L539.97,674.02 L540.19,674.2 L540.41,674.37 L540.62,674.55 L540.84,674.73 L541.06,674.91 L541.28,675.09 L541.5,675.27 L541.72,675.44 L541.94,675.62 L542.16,675.8 L542.39,675.98 L542.61,676.16 L542.83,676.33 L543.05,676.51 L543.27,676.68 L543.5,676.86 L543.72,677.04 L543.94,677.21 L544.16,677.38 L544.39,677.56 L544.61,677.73 L544.83,677.9 L545.06,678.08 L545.28,678.25 L545.5,678.42 L545.72,678.59 L545.94,678.75 L546.16,678.92 L546.39,679.09 L546.61,679.25 L546.83,679.42 L547.05,679.58 L547.27,679.74 L547.49,679.91 L547.7,680.07 L547.92,680.22 L548.14,680.38 L548.35,680.54 L548.57,680.69 L548.79,680.85 L549,681 L549.21,681.15 L549.43,681.3 L549.65,681.46 L549.86,681.61 L550.08,681.76 L550.3,681.91 L550.52,682.06 L550.74,682.22 L550.96,682.37 L551.18,682.52 L551.4,682.67 L551.62,682.83 L551.85,682.98 L552.07,683.13 L552.29,683.28 L552.52,683.44 L552.75,683.59 L552.97,683.74 L553.2,683.89 L553.42,684.04 L553.65,684.2 L553.88,684.35 L554.11,684.5 L554.34,684.65 L554.57,684.8 L554.8,684.95 L555.03,685.1 L555.26,685.25 L555.49,685.4 L555.72,685.55 L555.95,685.7 L556.18,685.85 L556.41,686 L556.65,686.15 L556.88,686.3 L557.11,686.44 L557.34,686.59 L557.57,686.74 L557.81,686.89 L558.04,687.03 L558.27,687.18 L558.51,687.32 L558.74,687.47 L558.97,687.61 L559.21,687.76 L559.44,687.9 L559.67,688.04 L559.91,688.19 L560.14,688.33 L560.37,688.47 L560.6,688.61 L560.84,688.75 L561.07,688.89 L561.3,689.03 L561.53,689.17 L561.77,689.3 L562,689.44 L562.23,689.58 L562.46,689.71 L562.69,689.85 L562.92,689.98 L563.15,690.12 L563.38,690.25 L563.61,690.38 L563.84,690.51 L564.07,690.64 L564.3,690.77 L564.53,690.9 L564.76,691.03 L564.98,691.16 L565.21,691.28 L565.44,691.41 L565.66,691.53 L565.89,691.66 L566.11,691.78 L566.34,691.9 L566.56,692.02 L566.78,692.14 L567,692.26 L567.23,692.38 L567.45,692.5 L567.67,692.61 L567.89,692.73 L568.1,692.84 L568.32,692.95 L568.54,693.06 L568.76,693.17 L568.97,693.28 L569.19,693.39 L569.4,693.5 M577.87,697 L578.1,697.08 L578.32,697.16 L578.55,697.24 L578.78,697.32 L579,697.4 L579.23,697.48 L579.45,697.56 L579.67,697.63 L579.9,697.71 L580.12,697.78 L580.33,697.85 L580.55,697.93 L580.77,698 L580.98,698.07 L581.19,698.14 L581.4,698.21 L581.61,698.28 L581.82,698.35 L582.02,698.42 L582.23,698.48 L582.43,698.55 L582.63,698.61 L582.82,698.68 L583.02,698.74 L583.21,698.8 L583.4,698.87 L583.59,698.93 L583.77,698.99 L583.95,699.04 L584.13,699.1 L584.31,699.16 L584.48,699.22 L584.66,699.27 L584.82,699.33 L584.99,699.38 L585.15,699.43 L585.31,699.49 L585.47,699.54 L585.62,699.59 L585.77,699.64 L585.92,699.69 L586.06,699.73 L586.2,699.78 L586.34,699.83 L586.47,699.87 L586.6,699.92 L586.73,699.96 L586.85,700 L586.97,700.04 L587.08,700.08 L587.19,700.12 L587.3,700.16 L587.4,700.2" stroke="#555" stroke-width="1" fill="none"/>
<path d="M482.4,418 L482.44,418.49 L482.49,419.01 L482.53,419.54 L482.58,420.1 L482.63,420.67 L482.68,421.27 L482.74,421.88 L482.79,422.51 L482.85,423.16 L482.91,423.83 L482.96,424.52 L483.03,425.22 L483.09,425.94 L483.15,426.68 L483.22,427.43 L483.28,428.2 L483.35,428.98 L483.42,429.78 L483.49,430.6 L483.56,431.43 L483.63,432.27 L483.7,433.13 L483.78,434 L483.86,434.88 L483.93,435.78 L484.01,436.69 L484.09,437.61 L484.17,438.54 L484.25,439.49 L484.33,440.44 L484.42,441.41 L484.5,442.39 L484.59,443.37 L484.67,444.37 L484.76,445.38 L484.84,446.39 L484.93,447.42 L485.02,448.45 L485.11,449.49 L485.2,450.53 L485.29,451.59 L485.38,452.65 L485.48,453.72 L485.57,454.79 L485.66,455.88 L485.76,456.96 L485.85,458.05 L485.95,459.15 L486.04,460.25 L486.14,461.35 L486.23,462.46 L486.33,463.57 L486.43,464.69 L486.52,465.81 M487.41,475.94 L487.51,477.07 L487.6,478.19 L487.7,479.32 L487.8,480.44 L487.9,481.56 L488,482.68 L488.1,483.79 L488.2,484.91 M489.07,494.72 L489.17,495.79 L489.26,496.84 L489.35,497.89 L489.45,498.93 L489.54,499.97 L489.63,500.99 L489.73,502.01 L489.82,503.01 L489.91,504.01 M490.81,514.14 L490.9,515.19 L490.99,516.24 L491.08,517.3 L491.17,518.36 L491.26,519.43 L491.35,520.5 L491.44,521.58 L491.52,522.66 L491.61,523.74 L491.7,524.83 L491.79,525.92 L491.88,527.01 L491.97,528.1 L492.06,529.2 L492.15,530.3 L492.24,531.4 L492.33,532.51 L492.42,533.61 L492.52,534.72 L492.61,535.83 L492.7,536.93 L492.79,538.04 L492.88,539.15 L492.97,540.26 L493.06,541.36 L493.15,542.47 L493.24,543.58 L493.33,544.68 L493.43,545.79 L493.52,546.89 L493.61,547.99 L493.7,549.09 L493.8,550.18 L493.89,551.27 L493.98,552.36 L494.07,553.45 L494.17,554.53 L494.26,555.61 L494.36,556.69 L494.45,557.76 L494.54,558.83 L494.64,559.89 L494.73,560.95 L494.83,562 M495.7,571.2 L495.8,572.18 L495.9,573.16 L495.99,574.13 L496.09,575.09 L496.19,576.05 L496.29,576.99 L496.39,577.93 L496.49,578.85 L496.6,579.77 L496.7,580.68 L496.8,581.57 L496.9,582.46 L497,583.33 L497.11,584.2 L497.21,585.05 L497.32,585.89 L497.42,586.72 L497.52,587.54 L497.63,588.34 L497.74,589.14 L497.84,589.92 L497.95,590.68 L498.06,591.44 L498.16,592.18 L498.27,592.9 L498.38,593.62 L498.49,594.32 L498.6,595 L498.71,595.67 L498.82,596.33 L498.93,596.98 L499.05,597.61 L499.16,598.23 L499.27,598.84 L499.39,599.44 L499.5,600.03 L499.62,600.61 L499.74,601.18 L499.86,601.73 L499.97,602.28 L500.09,602.81 L500.21,603.34 L500.33,603.85 L500.45,604.36 L500.57,604.85 L500.7,605.34 L500.82,605.82 L500.94,606.29 L501.06,606.74 L501.19,607.2 L501.31,607.64 L501.44,608.07 L501.56,608.5 L501.69,608.91 L501.81,609.32 L501.94,609.72 L502.07,610.12 L502.19,610.5 L502.32,610.88 L502.45,611.26 L502.58,611.62 L502.7,611.98 L502.83,612.33 L502.96,612.68 L503.09,613.02 L503.22,613.35 L503.35,613.68 L503.48,614 L503.61,614.32 L503.74,614.63 L503.87,614.94 L504,615.24 L504.12,615.54 L504.26,615.83 L504.39,616.12 L504.52,616.4 L504.65,616.68 L504.78,616.96 L504.91,617.23 L505.04,617.5 L505.17,617.76 L505.3,618.03 L505.43,618.28 L505.56,618.54 L505.69,618.79 L505.82,619.05 L505.94,619.29 L506.07,619.54 L506.2,619.79 L506.33,620.03 L506.46,620.27 L506.59,620.51 L506.72,620.75 L506.85,620.98 L506.97,621.22 L507.1,621.46 L507.23,621.69 L507.36,621.93 L507.48,622.16 L507.61,622.4 L507.73,622.63 L507.86,622.86 L507.98,623.1 L508.11,623.34 L508.23,623.57 L508.36,623.81 L508.48,624.05 L508.6,624.29 L508.73,624.53 L508.85,624.77 L508.97,625.02 L509.09,625.27 L509.21,625.51 L509.33,625.77 L509.45,626.02 L509.57,626.28 L509.68,626.54 L509.8,626.8 M513.82,634.48 L513.92,634.65 L514.03,634.81 L514.13,634.97 L514.23,635.13 L514.34,635.29 L514.44,635.44 L514.55,635.6 L514.65,635.76 L514.75,635.91 L514.86,636.06 L514.96,636.22 L515.07,636.37 L515.17,636.52 L515.27,636.67 L515.38,636.82 L515.48,636.96 L515.59,637.11 L515.69,637.26 L515.8,637.41 L515.9,637.55 L516.01,637.7 L516.12,637.85 L516.22,637.99 L516.33,638.14 L516.44,638.28 L516.54,638.43 L516.65,638.58 L516.76,638.72 L516.87,638.87 L516.97,639.01 L517.08,639.16 L517.19,639.31 L517.3,639.46 L517.41,639.6 L517.52,639.75 L517.63,639.9 L517.74,640.05 L517.86,640.2 L517.97,640.36 L518.08,640.51 L518.19,640.66 L518.31,640.82 L518.42,640.97 L518.54,641.13 L518.65,641.29 L518.77,641.45 L518.89,641.61 L519,641.77 L519.12,641.93 L519.24,642.1 L519.36,642.26 L519.48,642.43 L519.6,642.6 M525.96,650.75 L526.1,650.92 L526.24,651.1 L526.39,651.27 L526.53,651.44 L526.67,651.61 L526.81,651.78 L526.96,651.95 L527.1,652.12 L527.24,652.29 L527.38,652.46 L527.52,652.63 L527.66,652.79 L527.8,652.96 L527.93,653.12 L528.07,653.29 L528.21,653.45 L528.34,653.61 L528.48,653.77 L528.61,653.93 L528.74,654.09 L528.88,654.25 L529.01,654.4 L529.14,654.56 L529.27,654.71 L529.4,654.86 L529.52,655.01 L529.65,655.16 L529.77,655.31 L529.9,655.46 L530.02,655.61 L530.14,655.75 L530.26,655.9 L530.38,656.04 L530.5,656.18 L530.62,656.32 L530.73,656.46 L530.85,656.59 L530.96,656.73 L531.07,656.86 L531.18,656.99 L531.29,657.12 L531.39,657.25 L531.5,657.38 L531.6,657.5 L531.7,657.62 L531.8,657.74 M538,664.9 L538.14,665.02 L538.29,665.14 L538.44,665.27 L538.59,665.39 L538.74,665.52 L538.9,665.65 L539.05,665.78 L539.22,665.92 L539.38,666.05 L539.54,666.19 L539.71,666.32 L539.88,666.46 L540.06,666.6 L540.23,666.75 L540.41,666.89 L540.59,667.04 L540.77,667.18 L540.96,667.33 L541.14,667.48 L541.33,667.63 L541.52,667.78 L541.71,667.94 L541.9,668.09 L542.1,668.24 L542.3,668.4 L542.5,668.56 L542.7,668.72 L542.9,668.88 L543.11,669.04 L543.31,669.2 L543.52,669.36 L543.73,669.52 L543.94,669.68 L544.15,669.85 L544.36,670.01 L544.58,670.18 L544.79,670.34 L545.01,670.51 L545.23,670.68 L545.45,670.84 L545.67,671.01 L545.89,671.18 L546.11,671.35 L546.34,671.52 L546.56,671.69 L546.79,671.86 L547.01,672.03 L547.24,672.2 L547.47,672.37 L547.7,672.54 L547.93,672.71 L548.16,672.88 L548.39,673.05 L548.62,673.22 L548.85,673.39 L549.09,673.56 L549.32,673.73 L549.55,673.9 L549.79,674.07 L550.02,674.24 L550.26,674.41 L550.49,674.57 L550.73,674.74 L550.96,674.91 L551.2,675.08 L551.43,675.24 L551.67,675.41 L551.9,675.58 L552.14,675.74 L552.37,675.91 L552.61,676.07 L552.84,676.23 L553.08,676.4 L553.31,676.56 L553.55,676.72 L553.78,676.88 L554.02,677.04 L554.25,677.19 L554.48,677.35 L554.71,677.51 L554.95,677.66 L555.18,677.81 L555.41,677.97 L555.64,678.12 L555.87,678.27 L556.09,678.42 L556.32,678.57 L556.55,678.71 L556.78,678.86 L557,679 L557.23,679.14 L557.45,679.29 L557.68,679.43 L557.91,679.57 L558.14,679.72 L558.37,679.86 L558.6,680 L558.83,680.15 L559.07,680.29 L559.3,680.43 L559.54,680.58 L559.77,680.72 L560.01,680.87 L560.25,681.01 L560.49,681.15 L560.73,681.3 L560.97,681.44 L561.21,681.58 L561.45,681.73 L561.7,681.87 L561.94,682.01 L562.18,682.16 L562.43,682.3 L562.67,682.44 L562.92,682.58 L563.16,682.73 L563.41,682.87 L563.66,683.01 L563.9,683.15 L564.15,683.29 L564.4,683.43 L564.65,683.57 L564.9,683.71 L565.14,683.85 L565.39,683.99 L565.64,684.13 L565.89,684.27 L566.14,684.41 L566.39,684.55 L566.64,684.68 L566.89,684.82 L567.14,684.96 L567.38,685.09 L567.63,685.23 L567.88,685.36 L568.13,685.5 L568.38,685.63 L568.63,685.76 L568.87,685.9 L569.12,686.03 L569.37,686.16 L569.61,686.29 L569.86,686.42 L570.11,686.55 L570.35,686.68 L570.6,686.8 L570.84,686.93 L571.08,687.06 L571.33,687.18 L571.57,687.31 L571.81,687.43 L572.05,687.55 L572.29,687.68 L572.53,687.8 L572.77,687.92 L573.01,688.04 L573.25,688.16 L573.48,688.27 L573.72,688.39 L573.95,688.51 L574.19,688.62 L574.42,688.74 L574.65,688.85 L574.88,688.96 L575.11,689.07 L575.34,689.18 L575.57,689.29 L575.79,689.4 L576.02,689.5 L576.24,689.61 L576.46,689.71 L576.68,689.82 L576.9,689.92 L577.12,690.02 L577.34,690.12 L577.55,690.22 L577.77,690.32 L577.98,690.41 L578.19,690.51 L578.4,690.6 M587.59,693.82 L587.79,693.88 L587.98,693.93 L588.17,693.98 L588.36,694.04 L588.55,694.09 L588.74,694.14 L588.93,694.19 L589.11,694.24 L589.29,694.29 L589.47,694.34 L589.65,694.39 L589.83,694.43 L590.01,694.48 L590.18,694.53 L590.35,694.57 L590.52,694.62 L590.69,694.66 L590.86,694.71 L591.02,694.75 L591.18,694.79 L591.34,694.83 L591.5,694.88 L591.65,694.92 L591.81,694.96 L591.96,695 L592.11,695.03 L592.25,695.07 L592.4,695.11 L592.54,695.15 L592.67,695.18 L592.81,695.22 L592.94,695.26 L593.07,695.29 L593.2,695.33 L593.33,695.36 L593.45,695.39 L593.57,695.43 L593.68,695.46 L593.8,695.49 L593.91,695.52 L594.01,695.55 L594.12,695.58 L594.22,695.61 L594.31,695.64 L594.41,695.67 L594.5,695.7" stroke="#555" stroke-width="1" fill="none"/>
</svg>
</body></html>
